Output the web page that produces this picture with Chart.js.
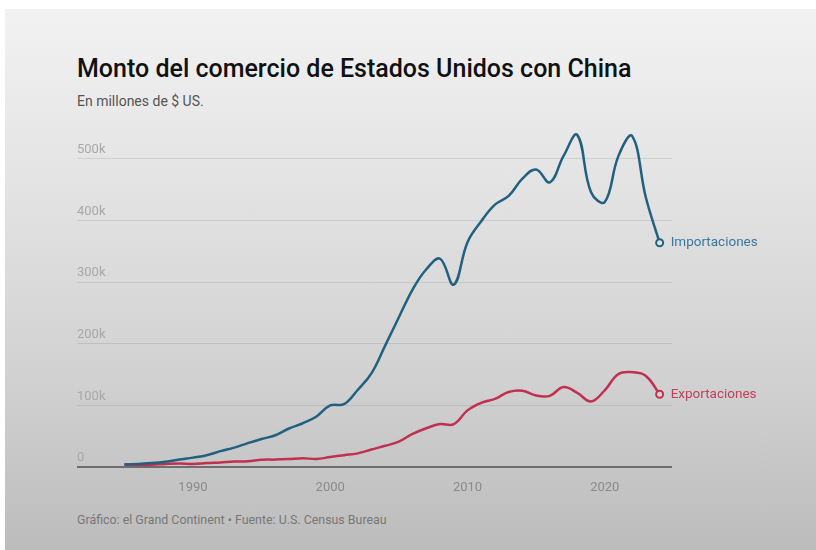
<!DOCTYPE html>
<html>
<head>
<meta charset="utf-8">
<script src="https://cdn.jsdelivr.net/npm/chart.js@4/dist/chart.umd.min.js"></script>
<style>
  body { margin: 0; background: #fff; }
  #wrap { position: relative; width: 816px; height: 550px; overflow: hidden; background: #fff; }
  #panel { position: absolute; left: 5px; top: 9px; right: 0; bottom: 0;
           background: linear-gradient(to bottom, #f2f2f2 0%, #e2e2e2 35%, #d0d0d0 70%, #bcbcbc 100%); }
  .txt { position: absolute; left: 77px; font-family: Roboto, "Noto Sans", sans-serif; white-space: nowrap; line-height: 1; }
  #title { top: 56px; font-size: 25px; font-weight: 500; color: #111; }
  #subtitle { top: 94px; font-size: 14px; color: #555; }
  #source { top: 514px; font-size: 12.4px; color: #777; }
  #chart { position: absolute; left: 0; top: 0; }
</style>
</head>
<body>
<div id="wrap">
  <div id="panel"></div>
  <div class="txt" id="title">Monto del comercio de Estados Unidos con China</div>
  <div class="txt" id="subtitle">En millones de $ US.</div>
  <div class="txt" id="source">Gráfico: el Grand Continent • Fuente: U.S. Census Bureau</div>
  <canvas id="chart" width="816" height="550"></canvas>
</div>
<script>
// Yearly trade with China, millions of US$
const years = [1985, 1986, 1987, 1988, 1989, 1990, 1991, 1992, 1993, 1994,
               1995, 1996, 1997, 1998, 1999, 2000, 2001, 2002, 2003, 2004,
               2005, 2006, 2007, 2008, 2009, 2010, 2011, 2012, 2013, 2014,
               2015, 2016, 2017, 2018, 2019, 2020, 2021, 2022, 2023, 2024];

const imports = [4000, 5000, 6300, 8500, 12000, 15200, 19000, 25700, 31500, 38800,
                 45500, 51500, 62500, 71000, 82000, 100000, 102000, 125000, 152000, 197000,
                 243000, 288000, 321000, 338000, 296000, 365000, 399000, 426000, 440000, 468000,
                 483000, 462000, 505000, 539000, 446000, 430000, 505000, 537000, 437000, 364000];

const exports = [4000, 3100, 3500, 5000, 5800, 4800, 6300, 7400, 8800, 9300,
                 11800, 12000, 12900, 14200, 13100, 16200, 19200, 22100, 28400, 34400,
                 41200, 53700, 62900, 69700, 69500, 91900, 104100, 110500, 121700, 123700,
                 115900, 115500, 129900, 120300, 106400, 124500, 151000, 153800, 147800, 118000];

const seriesNames = ['Importaciones', 'Exportaciones'];
const xTicks = [1990, 2000, 2010, 2020];
const yTicks = [0, 100000, 200000, 300000, 400000, 500000];

const importColor = '#22607f';
const exportColor = '#c0304f';

function toPoints(values) {
    return values.map((v, i) => ({ x: years[i], y: v }));
}

// only the last point gets a hollow marker
function endRadius(values) {
    return values.map((v, i) => i === values.length - 1 ? 3.5 : 0);
}

// series name written next to the last point of each line
const endLabels = {
    id: 'endLabels',
    afterDatasetsDraw(chart) {
        const ctx = chart.ctx;
        const labelColors = ['#3a78a0', '#c0405e'];
        ctx.save();
        ctx.font = '13.5px Roboto, "Noto Sans", sans-serif';
        ctx.textAlign = 'left';
        ctx.textBaseline = 'middle';
        chart.data.datasets.forEach((ds, i) => {
            const meta = chart.getDatasetMeta(i);
            const last = meta.data[meta.data.length - 1];
            ctx.fillStyle = labelColors[i];
            ctx.fillText(ds.label, last.x + 11, last.y);
        });
        ctx.restore();
    }
};

new Chart(document.getElementById('chart'), {
    type: 'line',
    data: {
        datasets: [
            {
                label: seriesNames[0],
                data: toPoints(imports),
                borderColor: importColor,
                borderWidth: 2.5,
                tension: 0.4,
                pointRadius: endRadius(imports),
                pointBorderWidth: 2,
                pointBorderColor: importColor,
                pointBackgroundColor: '#e4e4e4'
            },
            {
                label: seriesNames[1],
                data: toPoints(exports),
                borderColor: exportColor,
                borderWidth: 2.5,
                tension: 0.4,
                pointRadius: endRadius(exports),
                pointBorderWidth: 2,
                pointBorderColor: exportColor,
                pointBackgroundColor: '#d4d4d4'
            }
        ]
    },
    plugins: [endLabels],
    options: {
        responsive: false,
        animation: false,
        layout: { padding: { left: 77, right: 144, top: 122, bottom: 53 } },
        plugins: {
            legend: { display: false },
            tooltip: { enabled: false }
        },
        scales: {
            x: {
                type: 'linear',
                min: 1981.55,
                max: 2024.9,
                afterFit: s => { s.height = 30; },
                afterBuildTicks: s => { s.ticks = xTicks.map(v => ({ value: v })); },
                grid: { display: false },
                border: { display: false },
                ticks: {
                    padding: 5,
                    maxRotation: 0,
                    autoSkip: false,
                    color: '#8a8a8a',
                    font: { family: 'Roboto', size: 13 },
                    callback: v => String(v)
                }
            },
            y: {
                min: 0,
                max: 560000,
                afterFit: s => { s.width = 0; },
                afterBuildTicks: s => { s.ticks = yTicks.map(v => ({ value: v })); },
                border: { display: false },
                grid: {
                    drawTicks: false,
                    color: c => c.tick.value === 0 ? '#6e6e6e' : 'rgba(0,0,0,0.09)',
                    lineWidth: c => c.tick.value === 0 ? 2 : 1
                },
                ticks: {
                    mirror: true,
                    padding: 0,
                    labelOffset: -9,
                    color: '#a8a8a8',
                    font: { family: 'Roboto', size: 13 },
                    callback: v => v === 0 ? '0' : (v / 1000) + 'k'
                }
            }
        }
    }
});
</script>
</body>
</html>
